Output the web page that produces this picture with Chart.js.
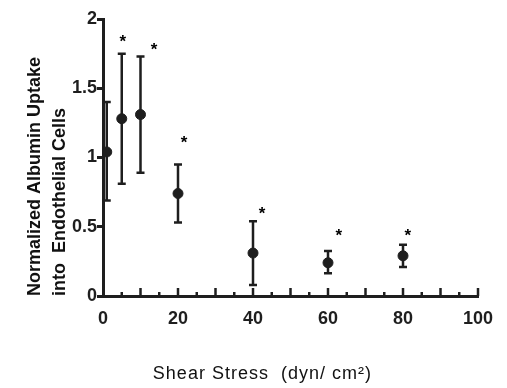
<!DOCTYPE html>
<html>
<head>
<meta charset="utf-8">
<script src="https://cdn.jsdelivr.net/npm/chart.js@4/dist/chart.umd.min.js"></script>
<style>
  html, body { margin: 0; padding: 0; background: #fff; }
</style>
</head>
<body>
<canvas id="shearChart" width="507" height="388"></canvas>
<script>
"use strict";

// shear stress (dyn/cm2) and normalized uptake
var shear = [1, 5, 10, 20, 40, 60, 80];
var uptake = [1.04, 1.28, 1.31, 0.74, 0.31, 0.24, 0.29];
var errLow = [0.69, 0.81, 0.89, 0.53, 0.08, 0.165, 0.21];
var errHigh = [1.40, 1.75, 1.73, 0.95, 0.54, 0.325, 0.37];

// significance markers
var starX = [5.3, 13.6, 21.6, 42.4, 62.9, 81.3];
var starY = [1.87, 1.81, 1.14, 0.63, 0.47, 0.47];

var xTicks = [0, 20, 40, 60, 80, 100];
var yTicks = [0, 0.5, 1, 1.5, 2];

var xTitle = 'Shear Stress  (dyn/ cm\u00b2)';

var ink = '#1e1e1e';
var font = '"Liberation Sans", Arial, sans-serif';

var pts = shear.map(function (s, i) { return { x: s, y: uptake[i] }; });

var extras = {
    id: 'extras',
    beforeDatasetsDraw: function (chart) {
        var c = chart.ctx, xs = chart.scales.x, ys = chart.scales.y;
        c.save();
        c.strokeStyle = ink;
        c.lineWidth = 2.5;
        shear.forEach(function (s, i) {
            var px = xs.getPixelForValue(s);
            var top = ys.getPixelForValue(errHigh[i]);
            var bot = ys.getPixelForValue(errLow[i]);
            c.beginPath();
            c.moveTo(px, top); c.lineTo(px, bot);
            c.moveTo(px - 4, top); c.lineTo(px + 4, top);
            c.moveTo(px - 4, bot); c.lineTo(px + 4, bot);
            c.stroke();
        });
        c.restore();
    },
    afterDatasetsDraw: function (chart) {
        var c = chart.ctx, xs = chart.scales.x, ys = chart.scales.y;
        c.save();
        // inward x ticks every 5
        c.strokeStyle = ink;
        c.lineWidth = 2.5;
        var bottom = ys.getPixelForValue(0);
        for (var v = 5; v <= 100; v += 5) {
            var px = xs.getPixelForValue(v);
            var len = (v % 10 === 0) ? 8 : 4;
            c.beginPath();
            c.moveTo(px, bottom); c.lineTo(px, bottom - len);
            c.stroke();
        }
        // asterisks
        c.fillStyle = '#000';
        c.font = 'bold 17px ' + font;
        c.textAlign = 'center';
        c.textBaseline = 'alphabetic';
        starX.forEach(function (sx, i) {
            c.fillText('*', xs.getPixelForValue(sx), ys.getPixelForValue(starY[i]) + 10);
        });
        // x axis title, sits a bit left of centre in the original
        c.fillStyle = '#111';
        c.font = '18px ' + font;
        c.letterSpacing = '1px';
        c.textAlign = 'center';
        c.textBaseline = 'middle';
        c.fillText(xTitle, xs.getPixelForValue(42.5), 374);
        c.restore();
    }
};

new Chart(document.getElementById('shearChart'), {
    type: 'scatter',
    data: {
        datasets: [{
            label: 'Uptake',
            data: pts,
            backgroundColor: ink,
            borderColor: ink,
            pointRadius: 5,
            pointHoverRadius: 5
        }]
    },
    options: {
        responsive: false,
        animation: false,
        layout: { padding: { top: 19, right: 29, left: 0, bottom: 0 } },
        scales: {
            x: {
                type: 'linear',
                min: 0,
                max: 100,
                afterBuildTicks: function (axis) {
                    axis.ticks = xTicks.map(function (v) { return { value: v }; });
                },
                afterFit: function (axis) { axis.height = 92; },
                grid: { display: false, drawTicks: false },
                border: { display: true, color: ink, width: 3 },
                ticks: {
                    color: ink,
                    padding: 12,
                    maxRotation: 0,
                    font: { family: font, size: 18, weight: 'bold' }
                }
            },
            y: {
                min: 0,
                max: 2,
                afterBuildTicks: function (axis) {
                    axis.ticks = yTicks.map(function (v) { return { value: v }; });
                },
                afterFit: function (axis) { axis.width = 103; },
                grid: { drawOnChartArea: false, drawTicks: true, tickLength: 6, color: ink, lineWidth: 3 },
                border: { display: true, color: ink, width: 3 },
                ticks: {
                    color: ink,
                    padding: 0,
                    callback: function (v) { return String(v); },
                    font: { family: font, size: 18, weight: 'bold' }
                },
                title: {
                    display: true,
                    text: ['Normalized Albumin Uptake', 'into  Endothelial Cells'],
                    align: 'start',
                    color: '#111',
                    padding: { top: 23, bottom: 0 },
                    font: { family: font, size: 18, weight: 'bold', lineHeight: '25px' }
                }
            }
        },
        plugins: {
            legend: { display: false },
            tooltip: { enabled: false }
        }
    },
    plugins: [extras]
});
</script>
</body>
</html>
